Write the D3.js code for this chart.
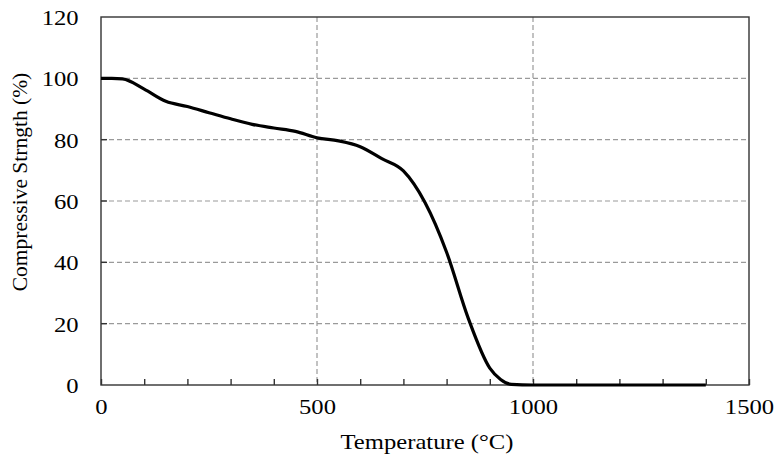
<!DOCTYPE html>
<html>
<head>
<meta charset="utf-8">
<script src="https://cdn.jsdelivr.net/npm/d3@7"></script>
<style>
  body { margin: 0; background: #fff; }
  svg { display: block; }
  text { font-family: "Liberation Serif", "Times New Roman", serif; fill: #000; }
</style>
</head>
<body>
<div id="chart"></div>
<script>
const temps = [0, 25, 50, 100, 150, 200, 250, 300, 350, 400, 450, 500, 550, 600, 650, 700, 750, 800, 850, 900, 925, 950, 1000, 1100, 1200, 1300, 1400]
const strength = [100, 100, 99.8, 96.5, 92.5, 90.8, 88.8, 86.8, 85, 83.8, 82.7, 80.6, 79.6, 77.7, 73.8, 69.8, 59.5, 43.3, 21.8, 5.5, 1.8, 0.2, 0, 0, 0, 0, 0]
const xTicks = [0, 500, 1000, 1500]
const yTicks = [0, 20, 40, 60, 80, 100, 120]
const xMinor = d3.range(0, 1501, 100)

const data = temps.map((t, i) => { return { t: t, v: strength[i] } })

const margin = { top: 17, right: 29, bottom: 81, left: 101 }
const width = 778 - margin.left - margin.right,
    height = 466 - margin.top - margin.bottom,
    stretch = 1.12;

const svg = d3.select('#chart')
    .append('svg')
    .attr('width', 778)
    .attr('height', 466)

const graph = svg.append('g')
    .attr('transform', 'translate(' + margin.left + ', ' + margin.top + ')')

const xS = d3.scaleLinear().domain([0, 1500]).range([0, width])
const yS = d3.scaleLinear().domain([0, 120]).range([height, 0])

// grid
graph.append('g')
    .selectAll('line')
    .data(yTicks.filter(d => d > 0 && d < 120))
    .enter()
    .append('line')
    .attr('x1', 0).attr('x2', width)
    .attr('y1', d => yS(d)).attr('y2', d => yS(d))
    .attr('stroke', '#9a9a9a')
    .attr('stroke-width', 1.2)
    .attr('stroke-dasharray', '5,3')

graph.append('g')
    .selectAll('line')
    .data(xTicks.filter(d => d > 0 && d < 1500))
    .enter()
    .append('line')
    .attr('x1', d => xS(d)).attr('x2', d => xS(d))
    .attr('y1', 0).attr('y2', height)
    .attr('stroke', '#9a9a9a')
    .attr('stroke-width', 1.2)
    .attr('stroke-dasharray', '5,3')

// frame
graph.append('rect')
    .attr('width', width)
    .attr('height', height)
    .attr('fill', 'none')
    .attr('stroke', '#333')
    .attr('stroke-width', 1.4)

// minor ticks on x axis (inward)
graph.append('g')
    .attr('transform', 'translate(0, ' + height + ')')
    .call(d3.axisBottom(xS).tickValues(xMinor).tickSize(-6).tickFormat(''))
    .call(g => g.select('.domain').remove())
    .selectAll('line').attr('stroke', '#333').attr('stroke-width', 1.4)

// x labels
graph.append('g')
    .attr('transform', 'translate(0, ' + height + ')')
    .call(d3.axisBottom(xS).tickValues(xTicks).tickSize(0).tickPadding(8).tickFormat(d3.format('d')))
    .call(g => g.select('.domain').remove())
    .selectAll('text')
    .style('font-size', '22px')
    .attr('transform', 'scale(' + stretch + ',1)')
    .attr('dy', '0.95em')

// y axis
const yAxis = graph.append('g')
    .call(d3.axisLeft(yS).tickValues(yTicks).tickSize(0).tickPadding(20).tickFormat(d3.format('d')))
    .call(g => g.select('.domain').remove())
yAxis.selectAll('text')
    .style('font-size', '22px')
    .attr('transform', 'scale(' + stretch + ',1)')
    .attr('dy', '0.34em')

graph.append('g')
    .selectAll('line')
    .data(yTicks.filter(d => d > 0 && d < 120))
    .enter()
    .append('line')
    .attr('x1', 0).attr('x2', 6)
    .attr('y1', d => yS(d)).attr('y2', d => yS(d))
    .attr('stroke', '#333')
    .attr('stroke-width', 1.4)

// curve
graph.append('path')
    .datum(data)
    .attr('fill', 'none')
    .attr('stroke', '#000')
    .attr('stroke-width', 3.2)
    .attr('stroke-linejoin', 'round')
    .attr('d', d3.line()
        .x(d => xS(d.t))
        .y(d => yS(d.v))
        .curve(d3.curveMonotoneX))

// titles
svg.append('text')
    .attr('text-anchor', 'middle')
    .attr('transform', 'translate(427, 449) scale(' + stretch + ',1)')
    .style('font-size', '22px')
    .text('Temperature (°C)')

svg.append('text')
    .attr('text-anchor', 'middle')
    .attr('transform', 'translate(27, 182) rotate(-90)')
    .style('font-size', '21.5px')
    .text('Compressive Strngth (%)')
</script>
</body>
</html>
